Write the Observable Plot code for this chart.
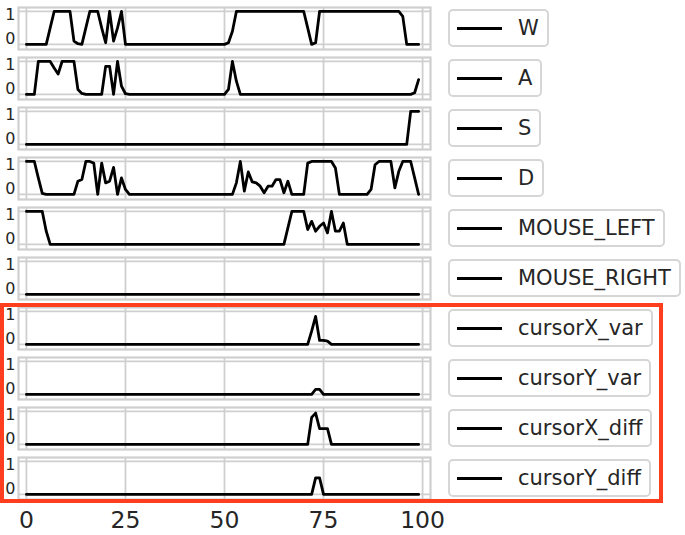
<!DOCTYPE html>
<html>
<head>
<meta charset="utf-8">
<script src="https://cdn.jsdelivr.net/npm/d3@7"></script>
<script src="https://cdn.jsdelivr.net/npm/@observablehq/plot@0.6"></script>
<style>
  html, body { margin: 0; padding: 0; background: #fff; }
  #wrap { position: relative; width: 685px; height: 535px; font-family: "DejaVu Sans", sans-serif; }
  .leg { position: absolute; box-sizing: border-box; height: 38px; border: 2px solid #d6d6d6; border-radius: 5px;
         background: #fff; display: flex; align-items: center; padding: 0 8px 0 7px; white-space: nowrap;
         font-size: 21px; color: #262626; }
  .leg .sw { width: 45px; height: 0; border-top: 3px solid #000; margin-right: 16px; }
  #hl { position: absolute; box-sizing: border-box; border: 4px solid #ff3d1f; }
</style>
</head>
<body>
<div id="wrap"></div>
<script>
const seriesNames = ["W", "A", "S", "D", "MOUSE_LEFT", "MOUSE_RIGHT", "cursorX_var", "cursorY_var", "cursorX_diff", "cursorY_diff"];
const xTicks = [0, 25, 50, 75, 100];
const yTicks = [0, 1];
const highlighted = ["cursorX_var", "cursorY_var", "cursorX_diff", "cursorY_diff"];

// values for steps 0..99
const W = [0,0,0,0,0,0,0.5,1,1,1, 1,1,0.1,0.02,0,0.5,1,1,1,0.5, 0.05,1,0.1,0.5,1,0,0,0,0,0,
  0,0,0,0,0,0,0,0,0,0, 0,0,0,0,0,0,0,0,0,0, 0,0.05,0.4,1,1,1,1,1,1,1,
  1,1,1,1,1,1,1,1,1,1, 1,0.5,0,0.05,1,1,1,1,1,1, 1,1,1,1,1,1,1,1,1,1, 1,1,1,1,1,0.85,0,0,0,0];
const A = [0,0,0,1,1,1,1,0.8,0.62,1, 1,1,1,0.15,0.03,0,0,0,0,0, 0.85,0.85,0,1,0.25,0.02,0,0,0,0,
  0,0,0,0,0,0,0,0,0,0, 0,0,0,0,0,0,0,0,0,0, 0,0.15,1,0.4,0,0,0,0,0,0,
  0,0,0,0,0,0,0,0,0,0, 0,0,0,0,0,0,0,0,0,0, 0,0,0,0,0,0,0,0,0,0, 0,0,0,0,0,0,0,0,0.05,0.45];
const S = [0,0,0,0,0,0,0,0,0,0, 0,0,0,0,0,0,0,0,0,0, 0,0,0,0,0,0,0,0,0,0,
  0,0,0,0,0,0,0,0,0,0, 0,0,0,0,0,0,0,0,0,0, 0,0,0,0,0,0,0,0,0,0,
  0,0,0,0,0,0,0,0,0,0, 0,0,0,0,0,0,0,0,0,0, 0,0,0,0,0,0,0,0,0,0, 0,0,0,0,0,0,0,1,1,1];
const D = [1,1,1,0.5,0.03,0,0,0,0,0, 0,0,0,0.4,0.45,1,1,0.95,0,0.95, 0.35,0.4,0.82,0,0.5,0.15,0,0,0,0,
  0,0,0,0,0,0,0,0,0,0, 0,0,0,0,0,0,0,0,0,0, 0,0,0,0.35,1,0.1,0.68,0.38,0.35,0.25,
  0.05,0.25,0.25,0.45,0.45,0.05,0.4,0,0,0, 0,0.95,1,1,1,1,1,1,0.8,0, 0,0,0,0,0,0,0,0.15,0.9,1, 1,1,1,0.2,0.7,1,1,1,0.5,0];
const MOUSE_LEFT = [1,1,1,1,1,0.4,0,0,0,0, 0,0,0,0,0,0,0,0,0,0, 0,0,0,0,0,0,0,0,0,0,
  0,0,0,0,0,0,0,0,0,0, 0,0,0,0,0,0,0,0,0,0, 0,0,0,0,0,0,0,0,0,0,
  0,0,0,0,0,0,0.5,1,1,1, 1,0.45,0.7,0.4,0.55,0.65,0.35,1,0.4,0.4, 0.65,0,0,0,0,0,0,0,0,0, 0,0,0,0,0,0,0,0,0,0];
const MOUSE_RIGHT = new Array(100).fill(0);
const cursorX_var = [0,0,0,0,0,0,0,0,0,0, 0,0,0,0,0,0,0,0,0,0, 0,0,0,0,0,0,0,0,0,0,
  0,0,0,0,0,0,0,0,0,0, 0,0,0,0,0,0,0,0,0,0, 0,0,0,0,0,0,0,0,0,0,
  0,0,0,0,0,0,0,0,0,0, 0,0,0.4,0.85,0.12,0.12,0.1,0,0,0, 0,0,0,0,0,0,0,0,0,0, 0,0,0,0,0,0,0,0,0,0];
const cursorY_var = [0,0,0,0,0,0,0,0,0,0, 0,0,0,0,0,0,0,0,0,0, 0,0,0,0,0,0,0,0,0,0,
  0,0,0,0,0,0,0,0,0,0, 0,0,0,0,0,0,0,0,0,0, 0,0,0,0,0,0,0,0,0,0,
  0,0,0,0,0,0,0,0,0,0, 0,0,0,0.15,0.15,0,0,0,0,0, 0,0,0,0,0,0,0,0,0,0, 0,0,0,0,0,0,0,0,0,0];
const cursorX_diff = [0,0,0,0,0,0,0,0,0,0, 0,0,0,0,0,0,0,0,0,0, 0,0,0,0,0,0,0,0,0,0,
  0,0,0,0,0,0,0,0,0,0, 0,0,0,0,0,0,0,0,0,0, 0,0,0,0,0,0,0,0,0,0,
  0,0,0,0,0,0,0,0,0,0, 0,0,0.82,0.95,0.48,0.48,0.48,0,0,0, 0,0,0,0,0,0,0,0,0,0, 0,0,0,0,0,0,0,0,0,0];
const cursorY_diff = [0,0,0,0,0,0,0,0,0,0, 0,0,0,0,0,0,0,0,0,0, 0,0,0,0,0,0,0,0,0,0,
  0,0,0,0,0,0,0,0,0,0, 0,0,0,0,0,0,0,0,0,0, 0,0,0,0,0,0,0,0,0,0,
  0,0,0,0,0,0,0,0,0,0, 0,0,0,0.5,0.5,0,0,0,0,0, 0,0,0,0,0,0,0,0,0,0, 0,0,0,0,0,0,0,0,0,0];

const seriesValues = {W, A, S, D, MOUSE_LEFT, MOUSE_RIGHT, cursorX_var, cursorY_var, cursorX_diff, cursorY_diff};
const rows = seriesNames.flatMap(name => seriesValues[name].map((v, i) => ({series: name, step: i, value: v})));

const grid = "#cfcfcf";
const chart = Plot.plot({
  width: 446,
  height: 535,
  marginTop: 3,
  marginBottom: 32,
  marginLeft: 18,
  marginRight: 16,
  style: {fontFamily: "DejaVu Sans, sans-serif", color: "#262626", background: "transparent", overflow: "visible"},
  x: {domain: [-2, 102]},
  y: {domain: [-0.155, 1.12]},
  fy: {domain: seriesNames, paddingInner: 0.155, paddingOuter: 0, axis: null},
  marks: [
    Plot.ruleX(xTicks, {stroke: grid, strokeWidth: 1.8}),
    Plot.ruleY(yTicks, {stroke: grid, strokeWidth: 1.8}),
    Plot.frame({stroke: grid, strokeWidth: 2.2}),
    Plot.lineY(rows, {x: "step", y: "value", fy: "series", stroke: "#000", strokeWidth: 2.8}),
    Plot.axisY([1], {tickSize: 0, tickPadding: 3, fontSize: 16, dy: 3, label: null}),
    Plot.axisY([0], {tickSize: 0, tickPadding: 3, fontSize: 16, dy: -5.5, label: null}),
    Plot.axisX(xTicks, {tickSize: 0, tickPadding: 12, fontSize: 23.5, label: null})
  ]
});

const wrap = document.getElementById("wrap");
wrap.appendChild(chart);
chart.style.position = "absolute";
chart.style.left = "0px";
chart.style.top = "0px";

const fy = chart.scale("fy");
const bw = fy.bandwidth;
seriesNames.forEach(name => {
  const top = fy.apply(name);
  const d = document.createElement("div");
  d.className = "leg";
  d.style.left = "448px";
  d.style.top = (top + bw / 2 - 19) + "px";
  d.innerHTML = '<span class="sw"></span><span></span>';
  d.lastChild.textContent = name;
  wrap.appendChild(d);
});

const hlTop = fy.apply(highlighted[0]) - 4.5;
const hlBottom = fy.apply(highlighted[highlighted.length - 1]) + bw + 4;
const hl = document.createElement("div");
hl.id = "hl";
hl.style.left = "0px";
hl.style.top = hlTop + "px";
hl.style.width = "663px";
hl.style.height = (hlBottom - hlTop) + "px";
wrap.appendChild(hl);
</script>
</body>
</html>
